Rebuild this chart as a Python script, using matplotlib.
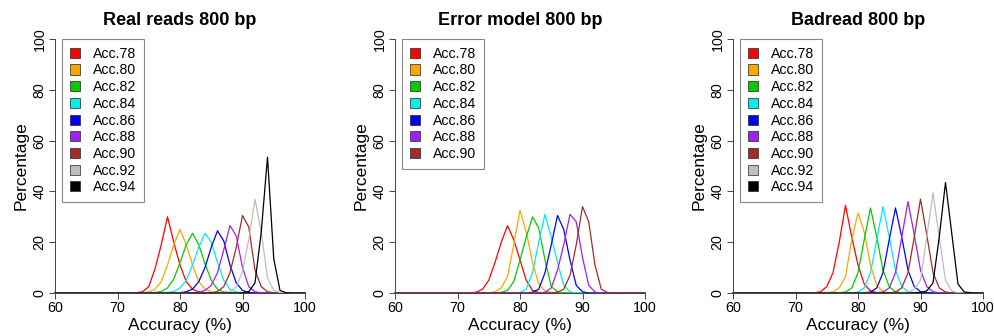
import numpy as np
import matplotlib
matplotlib.use("Agg")
import matplotlib.pyplot as plt
from matplotlib.patches import Patch

plt.rcParams['font.family'] = ['Liberation Sans', 'DejaVu Sans']

bins = np.arange(60, 101)

labels = ["Acc.78", "Acc.80", "Acc.82", "Acc.84", "Acc.86",
          "Acc.88", "Acc.90", "Acc.92", "Acc.94"]
colors = ["#FF0000", "#FFA500", "#00CD00", "#00EEEE", "#0000FF",
          "#A020F0", "#A52A2A", "#BEBEBE", "#000000"]

# each series: first non-zero bin, then percentages per 1% bin
real_start = [73, 74, 76, 78, 80, 82, 85, 87, 90]
real_vals = [
    [0.1, 0.5, 2.5, 9.5, 19, 30, 20, 11, 4.5, 1.5, 0.4, 0.1],
    [0.1, 0.4, 1.5, 4.5, 11, 19, 25, 19, 11, 4.5, 1.5, 0.4, 0.1],
    [0.2, 0.6, 2, 5.5, 12, 19, 23.5, 19, 11.5, 5, 1.5, 0.4, 0.1],
    [0.2, 0.6, 2, 5, 11, 18, 23.5, 20, 12, 5, 1.5, 0.4, 0.1],
    [0.1, 0.5, 1.5, 4.5, 10, 18, 24.5, 20.5, 11, 4, 1, 0.2],
    [0.1, 0.3, 1, 3, 8, 17, 26.5, 22.5, 10, 2.5, 0.5, 0.1],
    [0.1, 0.6, 2.5, 8, 18, 30.5, 26, 9, 2.5, 0.5, 0.1],
    [0.1, 0.5, 2.5, 8.5, 21, 37, 24, 6, 1, 0.2],
    [0.1, 0.5, 4, 24, 53.5, 13.5, 1, 0.1],
]

err_start = [72, 75, 77, 80, 82, 84, 85]
err_vals = [
    [0.1, 0.3, 1.5, 5, 12, 20, 26.5, 21, 13, 5, 1, 0.2],
    [0.1, 0.5, 2, 6.5, 19, 32.5, 24, 12, 3.5, 0.8, 0.2],
    [0.3, 1, 4.5, 13, 22, 30, 25.5, 13, 2.5, 0.5],
    [0.2, 1.5, 8, 20, 31, 22, 12, 3, 0.5],
    [0.3, 1.5, 8, 19, 30.5, 25, 13, 3, 0.5],
    [0.3, 2, 9, 19, 31, 28, 14, 3, 0.4],
    [0.1, 0.3, 1.5, 7, 19, 34, 28, 11, 1.5, 0.2],
]

bad_start = [73, 75, 77, 79, 81, 83, 85, 87, 89]
bad_vals = [
    [0.1, 0.5, 2.5, 8, 20, 34.5, 22, 11, 3.5, 0.8, 0.2],
    [0.1, 0.4, 2, 6.5, 21, 31.5, 24, 11, 3, 0.6, 0.1],
    [0.1, 0.4, 2, 8, 21, 33.5, 22, 9, 2.5, 0.5, 0.1],
    [0.1, 0.4, 2, 8, 21, 34, 22, 9, 2.5, 0.5, 0.1],
    [0.1, 0.4, 2, 8, 21, 33.5, 22, 9, 2.5, 0.5, 0.1],
    [0.1, 0.4, 2, 8, 22, 36, 23, 9, 2.5, 0.5, 0.1],
    [0.1, 0.4, 2, 8, 22, 37, 23, 8, 2, 0.4, 0.1],
    [0.1, 0.4, 1.5, 5, 22, 39.5, 22, 5, 0.8, 0.1],
    [0.1, 0.2, 0.8, 4, 22, 43.5, 23.5, 3.5, 0.4, 0.1],
]

titles = ["Real reads 800 bp", "Error model 800 bp", "Badread 800 bp"]
panels = [(real_start, real_vals), (err_start, err_vals), (bad_start, bad_vals)]
lefts = [55, 395, 733]


def full_series(start, vals):
    y = np.zeros(len(bins))
    i = start - bins[0]
    y[i:i + len(vals)] = vals
    return y


fig = plt.figure(figsize=(9.94, 3.36), dpi=100)

for k in range(3):
    ax = fig.add_axes([lefts[k] / 994, 43 / 336, 250 / 994, 254 / 336])
    starts, vals = panels[k]
    n = len(vals)
    for j in range(n):
        ax.plot(bins, full_series(starts[j], vals[j]), color=colors[j],
                lw=0.9, clip_on=False)
    ax.set_xlim(60, 100)
    ax.set_ylim(0, 100)
    for s in ['top', 'right']:
        ax.spines[s].set_visible(False)
    for s in ['left', 'bottom']:
        ax.spines[s].set_color('#444444')
        ax.spines[s].set_linewidth(0.7)
    ax.set_xticks([60, 70, 80, 90, 100])
    ax.set_yticks([0, 20, 40, 60, 80, 100])
    ax.set_yticklabels(['0', '20', '40', '60', '80', '100'],
                       rotation=90, va='center')
    ax.tick_params(length=4, width=0.7, color='#444444', labelsize=10.3, pad=2)
    ax.set_title(titles[k], fontsize=13, fontweight='bold', pad=10)
    ax.set_xlabel("Accuracy (%)", fontsize=12.5, labelpad=2)
    ax.set_ylabel("Percentage", fontsize=12.5, labelpad=3)

    handles = [Patch(facecolor=colors[j], edgecolor='#222222', lw=0.5)
               for j in range(n)]
    leg = ax.legend(handles, labels[:n], loc='upper left',
                    bbox_to_anchor=(0.027, 1.0), borderaxespad=0,
                    fontsize=10.2, handlelength=0.72, handleheight=0.72,
                    handletextpad=0.9, labelspacing=0.19, borderpad=0.55,
                    fancybox=False, framealpha=1, edgecolor='#888888')
    leg.get_frame().set_linewidth(0.8)

fig.savefig("out.png", dpi=100)
